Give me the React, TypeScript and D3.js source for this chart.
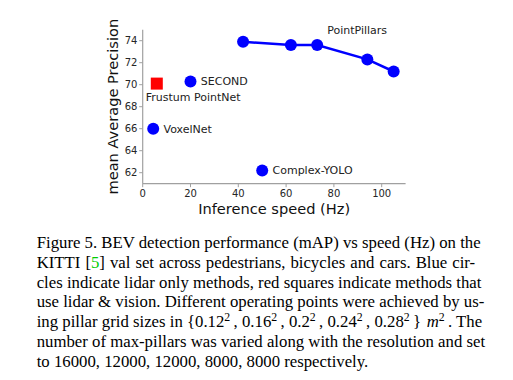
import React, { useEffect, useRef } from "react";
import * as d3 from "d3";

// PointPillars operating points (lidar only, connected)
const ppSpeed = [42, 62, 73, 94, 105];
const ppMap = [73.9, 73.6, 73.6, 72.3, 71.2];
// other lidar-only methods
const lidarNames = ["SECOND", "VoxelNet", "Complex-YOLO"];
const lidarSpeed = [20, 4.4, 50];
const lidarMap = [70.3, 66.0, 62.2];
// lidar & vision methods
const fusionNames = ["Frustum PointNet"];
const fusionSpeed = [5.9];
const fusionMap = [70.1];

const xTicks = [0, 20, 40, 60, 80, 100];
const yTicks = [62, 64, 66, 68, 70, 72, 74];
const xDomain = [0, 110];
const yDomain = [61, 75];

const xLabel = "Inference speed (Hz)";
const yLabel = "mean Average Precision";
const seriesLabel = "PointPillars";

const BLUE = "#0000ff";
const RED = "#ff0000";
const AXIS = "#a0a0a0";
const SANS = "'DejaVu Sans', sans-serif";
const SERIF = "'Liberation Serif', 'Times New Roman', serif";

export default function App() {
  const capRef = useRef<SVGGElement>(null);

  const x = d3.scaleLinear().domain(xDomain).range([142.7, 405.6]);
  const y = d3.scaleLinear().domain(yDomain).range([183.7, 29.7]);
  const line = d3
    .line<number>()
    .x((_, i) => x(ppSpeed[i]))
    .y((d) => y(d));

  const capLeft = 36.7;
  const capRight = 475.2;
  const base0 = 248.3;
  const lh = 19.7;
  const fs = 16.75;

  useEffect(() => {
    if (!capRef.current) return;
    d3.select(capRef.current)
      .selectAll<SVGTextElement, unknown>("text.just")
      .each(function () {
        const el = this as SVGTextElement;
        el.style.wordSpacing = "0px";
        const w = el.getComputedTextLength();
        const txt = el.textContent || "";
        const n = (txt.match(/ /g) || []).length;
        if (n > 0) {
          const extra = Math.max(0, (capRight - capLeft - w) / n);
          el.style.wordSpacing = `${extra}px`;
        }
      });
  }, []);

  const sup = (s: string) => (
    <>
      <tspan dy={-6.5} fontSize={11.8}>
        {s}
      </tspan>
      <tspan dy={6.5}>{"\u2009"}</tspan>
    </>
  );

  return (
    <svg
      width={513}
      height={380}
      style={{ position: "absolute", left: 0, top: 0, background: "#fff" }}
    >
      <rect width={513} height={380} fill="#fff" />
      {/* axes */}
      <line x1={x(xDomain[0])} x2={x(xDomain[1])} y1={y(yDomain[0])} y2={y(yDomain[0])} stroke={AXIS} strokeWidth={1.2} />
      <line x1={x(xDomain[0])} x2={x(xDomain[0])} y1={y(yDomain[0])} y2={y(yDomain[1])} stroke={AXIS} strokeWidth={1.2} />
      {xTicks.map((t) => (
        <g key={"xt" + t}>
          <line x1={x(t)} x2={x(t)} y1={y(yDomain[0])} y2={y(yDomain[0]) + 3.5} stroke={AXIS} strokeWidth={1} />
          <text x={x(t)} y={196.8} textAnchor="middle" fontFamily={SANS} fontSize={10} fill="#262626">
            {t}
          </text>
        </g>
      ))}
      {yTicks.map((t) => (
        <g key={"yt" + t}>
          <line x1={x(xDomain[0]) - 3.5} x2={x(xDomain[0])} y1={y(t)} y2={y(t)} stroke={AXIS} strokeWidth={1} />
          <text x={137.4} y={y(t) + 3.6} textAnchor="end" fontFamily={SANS} fontSize={10} fill="#262626">
            {t}
          </text>
        </g>
      ))}
      <text x={(x(xDomain[0]) + x(xDomain[1])) / 2} y={213.8} textAnchor="middle" fontFamily={SANS} fontSize={14.6} fill="#111">
        {xLabel}
      </text>
      <text
        transform={`translate(117.6,${(y(yDomain[0]) + y(yDomain[1])) / 2}) rotate(-90)`}
        textAnchor="middle"
        fontFamily={SANS}
        fontSize={14.6}
        fill="#111"
      >
        {yLabel}
      </text>

      {/* PointPillars */}
      <path d={line(ppMap) || ""} fill="none" stroke={BLUE} strokeWidth={2.5} />
      {ppMap.map((m, i) => (
        <circle key={"pp" + i} cx={x(ppSpeed[i])} cy={y(m)} r={6} fill={BLUE} />
      ))}
      <text x={x(77.2)} y={y(74.57)} fontFamily={SANS} fontSize={11} fill="#222">
        {seriesLabel}
      </text>

      {/* other lidar methods */}
      {lidarMap.map((m, i) => (
        <g key={"l" + i}>
          <circle cx={x(lidarSpeed[i])} cy={y(m)} r={6} fill={BLUE} />
          <text x={x(lidarSpeed[i]) + 10.3} y={y(m) + 3.9} fontFamily={SANS} fontSize={11} fill="#222">
            {lidarNames[i]}
          </text>
        </g>
      ))}

      {/* fusion methods */}
      {fusionMap.map((m, i) => (
        <g key={"f" + i}>
          <rect x={x(fusionSpeed[i]) - 6} y={y(m) - 6} width={12} height={12} fill={RED} />
          <text x={x(fusionSpeed[i]) - 11} y={y(m) + 17.4} fontFamily={SANS} fontSize={11} fill="#222">
            {fusionNames[i]}
          </text>
        </g>
      ))}

      {/* caption */}
      <g ref={capRef} fontFamily={SERIF} fontSize={fs} fill="#000">
        <text className="just" x={capLeft} y={base0}>
          Figure 5. BEV detection performance (mAP) vs speed (Hz) on the
        </text>
        <text className="just" x={capLeft} y={base0 + lh}>
          KITTI [<tspan fill="#00cc00">5</tspan>] val set across pedestrians, bicycles and cars. Blue cir-
        </text>
        <text className="just" x={capLeft} y={base0 + lh * 2}>
          cles indicate lidar only methods, red squares indicate methods that
        </text>
        <text className="just" x={capLeft} y={base0 + lh * 3}>
          use lidar &amp; vision. Different operating points were achieved by us-
        </text>
        <text className="just" x={capLeft} y={base0 + lh * 4}>
          ing pillar grid sizes in {"{"}0.12{sup("2")},{"\u2005"}0.16{sup("2")},{"\u2005"}0.2{sup("2")},{"\u2005"}0.24
          {sup("2")},{"\u2005"}0.28{sup("2")}{"}\u2004"}
          <tspan fontStyle="italic">m</tspan>
          {sup("2")}. The
        </text>
        <text className="just" x={capLeft} y={base0 + lh * 5}>
          number of max-pillars was varied along with the resolution and set
        </text>
        <text x={capLeft} y={base0 + lh * 6}>
          to 16000, 12000, 12000, 8000, 8000 respectively.
        </text>
      </g>
    </svg>
  );
}
